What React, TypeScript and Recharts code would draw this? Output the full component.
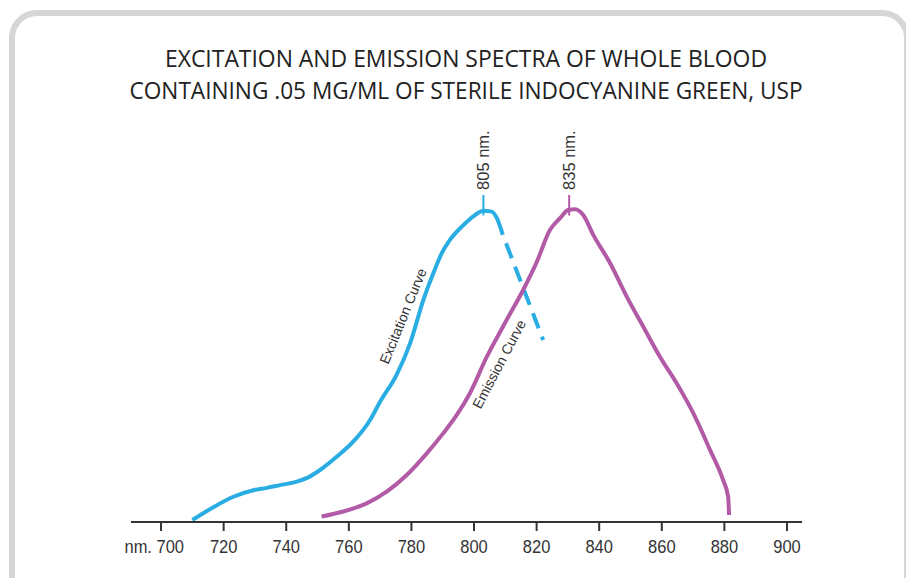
import { LineChart, Line, XAxis, YAxis, ReferenceLine, ReferenceDot } from 'recharts';

// wavelength (nm) / relative intensity
const excitationNm = [710.0, 716.7, 723.1, 729.5, 733.8, 738.0, 743.4, 746.5, 750.8, 756.1, 761.4, 766.8, 770.0, 775.3, 779.6, 783.8, 787.0, 789.7, 792.3, 796.6, 800.3, 803.0, 805.7, 807.3, 809.2];
const excitationVal = [0.5, 3.8, 6.5, 8.2, 8.8, 9.5, 10.4, 11.3, 13.4, 16.8, 20.7, 26.3, 31.0, 38.0, 46.1, 57.2, 64.1, 69.3, 72.7, 76.5, 79.1, 80.2, 80.0, 78.3, 74.0];

// extrapolated tail of the excitation curve (drawn dashed)
const excitationTailNm = [809.2, 822.1];
const excitationTailVal = [74.0, 46.9];

const emissionNm = [751.3, 758.2, 765.7, 772.1, 778.5, 784.9, 790.2, 794.5, 798.7, 804.1, 809.9, 815.7, 820.0, 824.3, 827.5, 830.1, 832.3, 834.9, 838.1, 843.5, 848.8, 854.1, 859.4, 864.8, 870.1, 875.4, 879.6, 881.2, 881.5];
const emissionVal = [1.4, 2.7, 4.8, 7.8, 12.1, 17.7, 22.9, 27.6, 33.2, 42.6, 51.3, 59.8, 66.9, 75.3, 78.3, 80.4, 80.6, 79.1, 74.0, 66.7, 58.1, 50.3, 42.6, 35.7, 28.0, 18.6, 10.8, 6.5, 1.8];

const xTicks = [700, 720, 740, 760, 780, 800, 820, 840, 860, 880, 900];

const titleLines = [
  'EXCITATION AND EMISSION SPECTRA OF WHOLE BLOOD',
  'CONTAINING .05 MG/ML OF STERILE INDOCYANINE GREEN, USP',
];

const peakLabels = ['805 nm.', '835 nm.'];

const toPoints = (xs: number[], ys: number[]) => xs.map((x, i) => ({ x, y: ys[i] }));

const excitation = toPoints(excitationNm, excitationVal);
const excitationTail = toPoints(excitationTailNm, excitationTailVal);
const emission = toPoints(emissionNm, emissionVal);

const BLUE = '#2aade2';
const PURPLE = '#b25aa6';
const INK = '#333';
const FONT = '"Liberation Sans", Arial, Helvetica, sans-serif';

const XTick = (props: any) => {
  const { x, y, payload } = props;
  const first = payload.value === 700;
  // the scan is a little stretched vertically, so the digits are taller than wide
  return (
    <text
      transform={`translate(${first ? x + 23 : x} ${y + 20}) scale(1 1.13)`}
      x={0}
      y={0}
      textAnchor={first ? 'end' : 'middle'}
      fill={INK}
      fontSize={16.5}
      fontFamily={FONT}
    >
      {first ? `nm. ${payload.value}` : payload.value}
    </text>
  );
};

const PeakText = (text: string) => (props: any) => {
  const { cx, cy } = props;
  return (
    <text
      x={cx + 5}
      y={cy}
      transform={`rotate(-90 ${cx} ${cy})`}
      textAnchor="start"
      dominantBaseline="central"
      fill={INK}
      fontSize={16.5}
      fontFamily={FONT}
    >
      {text}
    </text>
  );
};

const CurveText = (text: string, angle: number) => (props: any) => {
  const { cx, cy } = props;
  return (
    <text
      x={cx}
      y={cy}
      transform={`rotate(${angle} ${cx} ${cy})`}
      textAnchor="middle"
      dominantBaseline="central"
      fill={INK}
      fontSize={14}
      fontFamily={FONT}
    >
      {text}
    </text>
  );
};

export default function App() {
  return (
    <div style={{ position: 'fixed', left: 0, top: 0, width: 906, height: 578, background: '#fff', overflow: 'hidden' }}>
      <div
        style={{
          position: 'absolute',
          left: 9,
          top: 10,
          width: 901,
          height: 640,
          boxSizing: 'border-box',
          border: '6px solid #d6d6d6',
          borderRadius: 28,
        }}
      />
      <svg width={906} height={120} style={{ position: 'absolute', left: 0, top: 0 }}>
        <text
          x={466}
          y={67}
          textAnchor="middle"
          textLength={602}
          lengthAdjust="spacingAndGlyphs"
          fill="#222"
          fontSize={24.5}
          fontFamily='"Open Sans", "Liberation Sans", sans-serif'
        >
          {titleLines[0]}
        </text>
        <text
          x={466}
          y={99}
          textAnchor="middle"
          textLength={673}
          lengthAdjust="spacingAndGlyphs"
          fill="#222"
          fontSize={24.5}
          fontFamily='"Open Sans", "Liberation Sans", sans-serif'
        >
          {titleLines[1]}
        </text>
      </svg>
      <div style={{ position: 'absolute', left: 0, top: 0 }}>
        <LineChart width={906} height={578} margin={{ top: 134, right: 104, bottom: 0, left: 131 }}>
          <XAxis
            type="number"
            dataKey="x"
            domain={[690.4, 904.8]}
            ticks={xTicks}
            interval={0}
            allowDataOverflow
            height={56}
            tickSize={9}
            axisLine={{ stroke: INK, strokeWidth: 2 }}
            tickLine={{ stroke: INK, strokeWidth: 2 }}
            tick={<XTick />}
          />
          <YAxis
            type="number"
            domain={[0, 100]}
            width={0}
            tick={false}
            tickLine={false}
            axisLine={{ stroke: INK, strokeWidth: 2 }}
          />
          <Line data={excitation} dataKey="y" type="monotone" stroke={BLUE} strokeWidth={4} dot={false} isAnimationActive={false} />
          <Line
            data={excitationTail}
            dataKey="y"
            type="linear"
            stroke={BLUE}
            strokeWidth={4}
            strokeDasharray="16 9"
            strokeDashoffset={16}
            dot={false}
            isAnimationActive={false}
          />
          <Line data={emission} dataKey="y" type="monotone" stroke={PURPLE} strokeWidth={4} dot={false} isAnimationActive={false} />
          <ReferenceLine segment={[{ x: 803.0, y: 79.0 }, { x: 803.0, y: 84.3 }]} stroke={BLUE} strokeWidth={2} />
          <ReferenceLine segment={[{ x: 830.4, y: 79.0 }, { x: 830.4, y: 84.3 }]} stroke={PURPLE} strokeWidth={2} />
          <ReferenceDot x={803.0} y={84.3} r={0} shape={PeakText(peakLabels[0])} />
          <ReferenceDot x={830.4} y={84.3} r={0} shape={PeakText(peakLabels[1])} />
          <ReferenceDot x={777.3} y={53.1} r={0} shape={CurveText('Excitation Curve', -67.8)} />
          <ReferenceDot x={808.0} y={40.7} r={0} shape={CurveText('Emission Curve', -62.2)} />
        </LineChart>
      </div>
    </div>
  );
}
